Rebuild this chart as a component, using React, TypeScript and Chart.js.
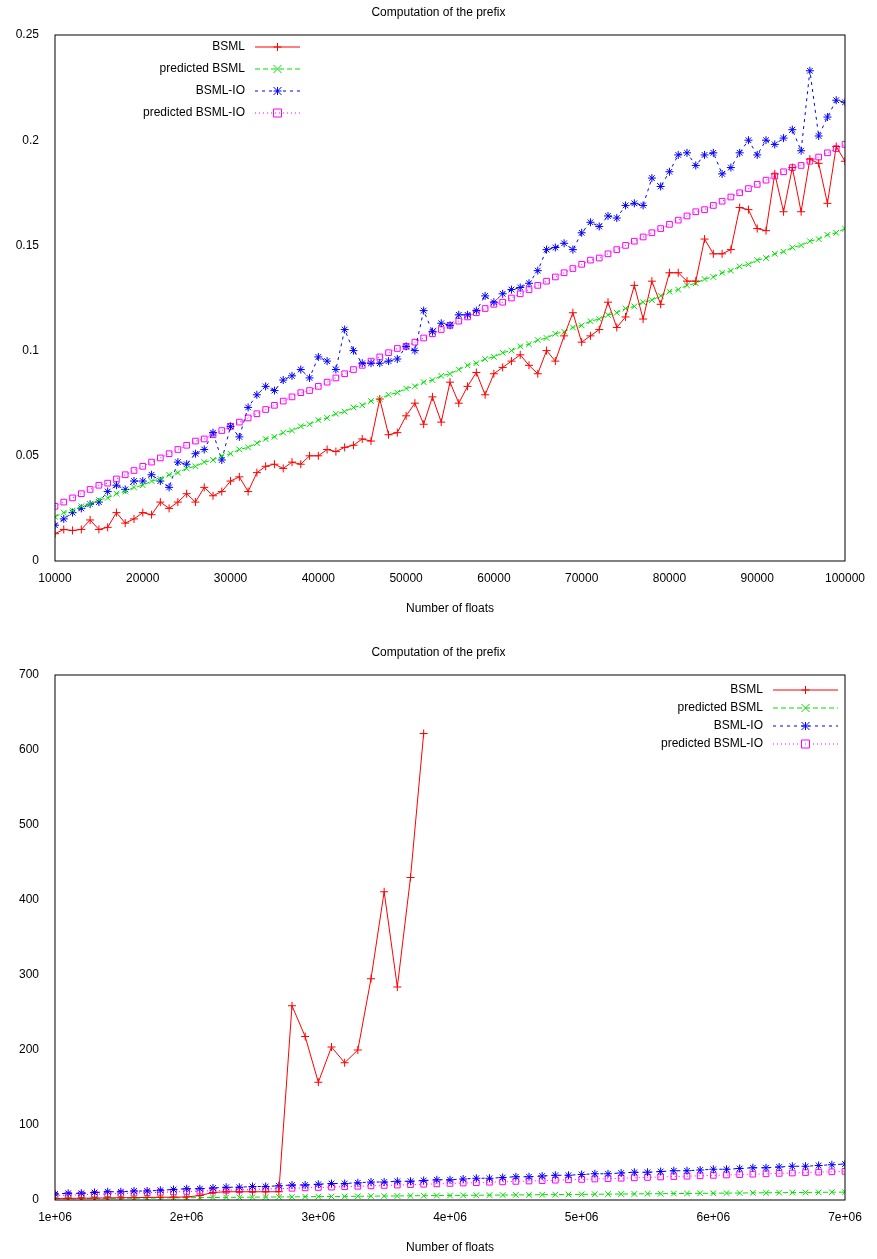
import React, { useEffect, useRef } from "react";
import { Chart, registerables, type Plugin } from "chart.js";

Chart.register(...registerables);

const FONT = "'Liberation Sans', Arial, sans-serif";

// top chart: 10000..100000 step 1000
const smallX = Array.from({ length: 91 }, (_, i) => 10000 + i * 1000);
const smallBsml = [
  0.013, 0.015, 0.0145, 0.015, 0.0195, 0.015, 0.016, 0.023, 0.018, 0.02,
  0.023, 0.022, 0.028, 0.025, 0.028, 0.032, 0.028, 0.035, 0.031, 0.033,
  0.038, 0.04, 0.033, 0.042, 0.045, 0.046, 0.044, 0.047, 0.046, 0.05,
  0.05, 0.053, 0.052, 0.054, 0.055, 0.058, 0.057, 0.077, 0.06, 0.061,
  0.069, 0.075, 0.065, 0.078, 0.066, 0.085, 0.075, 0.083, 0.0896, 0.079,
  0.089, 0.092, 0.095, 0.098, 0.093, 0.089, 0.1, 0.095, 0.107, 0.118,
  0.104, 0.107, 0.11, 0.123, 0.111, 0.116, 0.131, 0.115, 0.133, 0.122,
  0.137, 0.137, 0.133, 0.133, 0.153, 0.146, 0.146, 0.148, 0.168, 0.167,
  0.158, 0.157, 0.184, 0.166, 0.187, 0.166, 0.191, 0.189, 0.17, 0.197,
  0.19,
];
const smallPredBsml = [
  0.021, 0.023, 0.024, 0.026, 0.027, 0.029, 0.03, 0.032, 0.033, 0.035,
  0.036, 0.038, 0.039, 0.041, 0.042, 0.044, 0.045, 0.047, 0.048, 0.05,
  0.051, 0.053, 0.054, 0.056, 0.058, 0.059, 0.061, 0.062, 0.064, 0.065,
  0.067, 0.068, 0.07, 0.071, 0.073, 0.074, 0.076, 0.077, 0.079, 0.08,
  0.082, 0.083, 0.085, 0.086, 0.088, 0.089, 0.091, 0.093, 0.094, 0.096,
  0.097, 0.099, 0.1, 0.102, 0.103, 0.105, 0.106, 0.108, 0.109, 0.111,
  0.112, 0.114, 0.115, 0.117, 0.118, 0.12, 0.121, 0.123, 0.124, 0.126,
  0.128, 0.129, 0.131, 0.132, 0.134, 0.135, 0.137, 0.138, 0.14, 0.141,
  0.143, 0.144, 0.146, 0.147, 0.149, 0.15, 0.152, 0.153, 0.155, 0.156,
  0.158,
];
const smallBsmlIo = [
  0.017, 0.02, 0.023, 0.025, 0.027, 0.028, 0.033, 0.036, 0.034, 0.038,
  0.038, 0.041, 0.038, 0.035, 0.047, 0.046, 0.051, 0.053, 0.061, 0.048,
  0.064, 0.059, 0.073, 0.079, 0.083, 0.081, 0.086, 0.088, 0.091, 0.087,
  0.097, 0.095, 0.091, 0.11, 0.1, 0.094, 0.094, 0.094, 0.095, 0.096,
  0.102, 0.1, 0.119, 0.109, 0.113, 0.112, 0.117, 0.117, 0.119, 0.126,
  0.123, 0.127, 0.129, 0.13, 0.132, 0.138, 0.148, 0.149, 0.151, 0.148,
  0.156, 0.161, 0.159, 0.164, 0.163, 0.169, 0.17, 0.169, 0.182, 0.178,
  0.185, 0.193, 0.194, 0.188, 0.193, 0.194, 0.184, 0.187, 0.194, 0.2,
  0.193, 0.2, 0.198, 0.201, 0.205, 0.195, 0.233, 0.202, 0.211, 0.219,
  0.218,
];
const smallPredBsmlIo = [
  0.026, 0.028, 0.03, 0.032, 0.034, 0.036, 0.037, 0.039, 0.041, 0.043,
  0.045, 0.047, 0.049, 0.051, 0.053, 0.055, 0.057, 0.058, 0.06, 0.062,
  0.064, 0.066, 0.068, 0.07, 0.072, 0.074, 0.076, 0.078, 0.08, 0.081,
  0.083, 0.085, 0.087, 0.089, 0.091, 0.093, 0.095, 0.097, 0.099, 0.101,
  0.102, 0.104, 0.106, 0.108, 0.11, 0.112, 0.114, 0.116, 0.118, 0.12,
  0.122, 0.123, 0.125, 0.127, 0.129, 0.131, 0.133, 0.135, 0.137, 0.139,
  0.141, 0.143, 0.144, 0.146, 0.148, 0.15, 0.152, 0.154, 0.156, 0.158,
  0.16, 0.162, 0.164, 0.166, 0.167, 0.169, 0.171, 0.173, 0.175, 0.177,
  0.179, 0.181, 0.183, 0.185, 0.187, 0.188, 0.19, 0.192, 0.194, 0.196,
  0.198,
];

// bottom chart: 1e6..7e6 step 1e5
const largeX = Array.from({ length: 61 }, (_, i) => 1000000 + i * 100000);
const largeBsml = [
  2, 2.2, 2.4, 2.6, 2.8, 3, 3.2, 3.4, 3.6, 3.8,
  4, 6, 10, 11, 11, 11, 11, 11, 259, 218,
  157, 204, 183, 200, 295, 411, 284, 430, 622,
];
const largePredBsml = [
  1.5, 1.7, 1.8, 2, 2.1, 2.3, 2.4, 2.6, 2.7, 2.9,
  3, 3.2, 3.3, 3.5, 3.6, 3.8, 3.9, 4.1, 4.2, 4.4,
  4.5, 4.7, 4.8, 5, 5.1, 5.3, 5.4, 5.6, 5.7, 5.9,
  6, 6.2, 6.3, 6.5, 6.6, 6.8, 6.9, 7.1, 7.2, 7.4,
  7.5, 7.7, 7.8, 8, 8.1, 8.3, 8.4, 8.6, 8.7, 8.9,
  9, 9.2, 9.3, 9.5, 9.6, 9.8, 9.9, 10.1, 10.2, 10.4,
  10.5,
];
const largeBsmlIo = [
  8, 9, 9, 10, 11, 11, 12, 12, 13, 14,
  15, 15, 16, 17, 17, 18, 18, 19, 20, 20,
  21, 22, 22, 23, 24, 24, 25, 25, 26, 27,
  27, 28, 29, 29, 30, 31, 31, 32, 33, 33,
  34, 35, 35, 36, 37, 37, 38, 39, 39, 40,
  41, 41, 42, 43, 43, 44, 45, 45, 46, 47,
  48,
];
const largePredBsmlIo = [
  6, 6.5, 7, 7.6, 8.1, 8.7, 9.2, 9.7, 10.3, 10.8,
  11.3, 11.9, 12.4, 13, 13.5, 14, 14.6, 15.1, 15.6, 16.2,
  16.7, 17.2, 17.8, 18.3, 18.9, 19.4, 19.9, 20.5, 21, 21.5,
  22.1, 22.6, 23.1, 23.7, 24.2, 24.8, 25.3, 25.8, 26.4, 26.9,
  27.4, 28, 28.5, 29, 29.6, 30.1, 30.7, 31.2, 31.7, 32.3,
  32.8, 33.3, 33.9, 34.4, 34.9, 35.5, 36, 36.6, 37.1, 37.6,
  38.2,
];

const seriesNames = ["BSML", "predicted BSML", "BSML-IO", "predicted BSML-IO"];
const seriesColors = ["#ff0000", "#00e000", "#0000ff", "#ff00ff"];
const seriesShapes = ["cross", "crossRot", "star", "rect"];
const seriesDash = [[], [5, 3], [3, 4], [1, 3]];

function drawMarker(ctx: CanvasRenderingContext2D, shape: string, x: number, y: number, r: number) {
  ctx.beginPath();
  if (shape === "cross" || shape === "star") {
    ctx.moveTo(x - r, y); ctx.lineTo(x + r, y);
    ctx.moveTo(x, y - r); ctx.lineTo(x, y + r);
  }
  if (shape === "crossRot" || shape === "star") {
    ctx.moveTo(x - r, y - r); ctx.lineTo(x + r, y + r);
    ctx.moveTo(x - r, y + r); ctx.lineTo(x + r, y - r);
  }
  if (shape === "rect") ctx.rect(x - r, y - r, 2 * r, 2 * r);
  ctx.stroke();
}

function makeBoxLegend(textRight: number, lineStart: number, lineEnd: number, top: number, gap: number): Plugin<"line"> {
  return {
    id: "boxLegend",
    afterDraw(chart) {
      const ctx = chart.ctx;
      const a = chart.chartArea;
      ctx.save();
      ctx.strokeStyle = "#000";
      ctx.lineWidth = 1;
      ctx.setLineDash([]);
      ctx.strokeRect(a.left, a.top, a.right - a.left, a.bottom - a.top);
      ctx.font = `12px ${FONT}`;
      ctx.textBaseline = "middle";
      ctx.textAlign = "right";
      seriesNames.forEach((name, i) => {
        const y = top + i * gap;
        ctx.fillStyle = "#000";
        ctx.fillText(name, textRight, y);
        ctx.strokeStyle = seriesColors[i];
        ctx.setLineDash(seriesDash[i]);
        ctx.beginPath();
        ctx.moveTo(lineStart, y);
        ctx.lineTo(lineEnd, y);
        ctx.stroke();
        ctx.setLineDash([]);
        drawMarker(ctx, seriesShapes[i], (lineStart + lineEnd) / 2, y, 4);
      });
      ctx.restore();
    },
  };
}

function buildDatasets(xs: number[], ys: number[][]) {
  return ys.map((vals, i) => ({
    label: seriesNames[i],
    data: vals.map((v, j) => ({ x: xs[j], y: v })),
    borderColor: seriesColors[i],
    backgroundColor: "transparent",
    borderWidth: 1,
    borderDash: seriesDash[i],
    pointStyle: seriesShapes[i] as any,
    pointRadius: 4,
    pointBorderColor: seriesColors[i],
    pointBackgroundColor: "transparent",
    pointBorderWidth: 1,
    tension: 0,
  }));
}

interface PanelProps {
  height: number;
  xs: number[];
  ys: number[][];
  xMin: number;
  xMax: number;
  xStep: number;
  yMax: number;
  yStep: number;
  top: number;
  bottomSpace: number;
  fmtX: (v: number) => string;
  fmtY: (v: number) => string;
  legend: Plugin<"line">;
}

function Panel(p: PanelProps) {
  const canvasRef = useRef<HTMLCanvasElement | null>(null);

  useEffect(() => {
    if (!canvasRef.current) return;
    const tick = { color: "#000", font: { family: FONT, size: 12 } };
    const chart = new Chart(canvasRef.current, {
      type: "line",
      data: { datasets: buildDatasets(p.xs, p.ys) as any },
      plugins: [p.legend],
      options: {
        responsive: false,
        animation: false,
        layout: { padding: { top: p.top, right: 32, left: 0, bottom: 0 } },
        plugins: {
          legend: { display: false },
          tooltip: { enabled: false },
          title: { display: false },
        },
        scales: {
          x: {
            type: "linear",
            min: p.xMin,
            max: p.xMax,
            afterFit: (s: any) => { s.height = p.bottomSpace; },
            afterBuildTicks: (s: any) => {
              const t = [];
              for (let v = p.xMin; v <= p.xMax + 1; v += p.xStep) t.push({ value: v });
              s.ticks = t;
            },
            grid: { display: true, drawOnChartArea: false, drawTicks: false, color: "#000" },
            border: { display: false },
            ticks: { ...tick, padding: 10, maxRotation: 0, callback: (v: any) => p.fmtX(Number(v)) },
            title: { display: true, text: "Number of floats", color: "#000", font: { family: FONT, size: 12 }, padding: { top: 4 } },
          },
          y: {
            min: 0,
            max: p.yMax,
            afterFit: (s: any) => { s.width = 55; },
            grid: { display: false },
            border: { display: false },
            ticks: { ...tick, stepSize: p.yStep, padding: 8, callback: (v: any) => p.fmtY(Number(v)) },
          },
        },
      },
    });
    return () => chart.destroy();
  }, [p]);

  return (
    <div style={{ position: "relative", width: 877, height: p.height }}>
      <div style={{ position: "absolute", top: p.top - 30, width: 877, textAlign: "center", fontFamily: FONT, fontSize: 12 }}>
        Computation of the prefix
      </div>
      <canvas ref={canvasRef} width={877} height={p.height} style={{ display: "block" }} />
    </div>
  );
}

const expFmt = (v: number) => `${Math.round(v / 1e6)}e+06`;

const topLegend = makeBoxLegend(245, 255, 300, 47, 22);
const bottomLegend = makeBoxLegend(763, 773, 838, 60, 18);

const topProps: PanelProps = {
  height: 620, xs: smallX,
  ys: [smallBsml, smallPredBsml, smallBsmlIo, smallPredBsmlIo],
  xMin: 10000, xMax: 100000, xStep: 10000, yMax: 0.25, yStep: 0.05,
  top: 35, bottomSpace: 59,
  fmtX: (v) => String(v),
  fmtY: (v) => (v === 0 ? "0" : String(Math.round(v * 100) / 100)),
  legend: topLegend,
};

const bottomProps: PanelProps = {
  height: 629, xs: largeX,
  ys: [largeBsml, largePredBsml, largeBsmlIo, largePredBsmlIo],
  xMin: 1000000, xMax: 7000000, xStep: 1000000, yMax: 700, yStep: 100,
  top: 45, bottomSpace: 59,
  fmtX: expFmt,
  fmtY: (v) => String(v),
  legend: bottomLegend,
};

export default function App() {
  useEffect(() => {
    document.body.style.margin = "0";
  }, []);
  return (
    <div style={{ width: 877, background: "#fff" }}>
      <Panel {...topProps} />
      <div style={{ height: 10 }} />
      <Panel {...bottomProps} />
    </div>
  );
}
